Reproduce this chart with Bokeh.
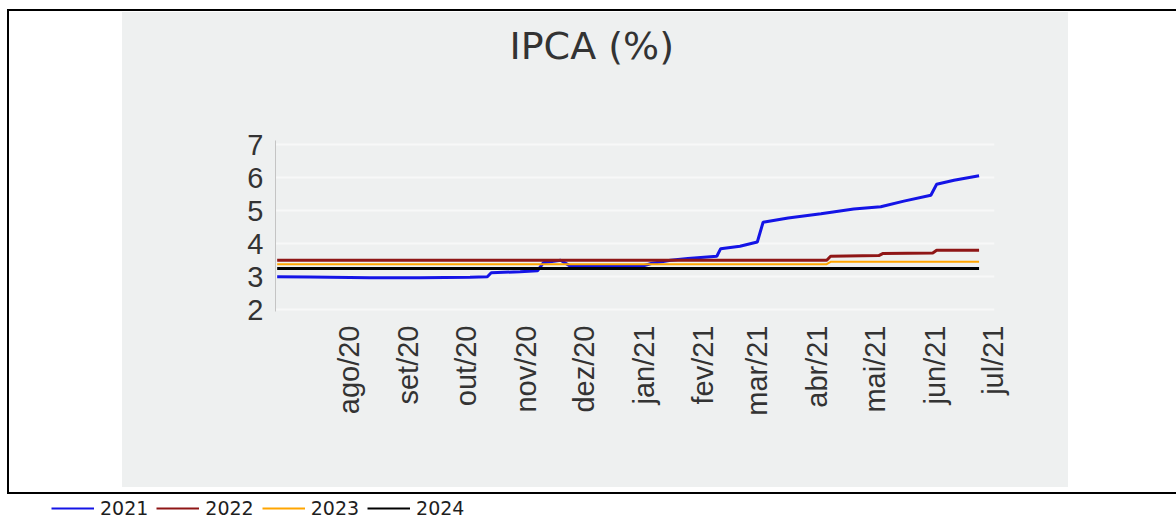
import pandas as pd
from math import pi
from bokeh.plotting import figure
from bokeh.models import Range1d, FixedTicker, Legend, LegendItem, ColumnDataSource, Title
from bokeh.embed import file_html
from bokeh.resources import INLINE

title_text = "IPCA (%)"
series_names = ["2021", "2022", "2023", "2024"]
series_colors = ["#1414e6", "#8f1616", "#ffa500", "#000000"]

month_starts = ["2020-08-01", "2020-09-01", "2020-10-01", "2020-11-01", "2020-12-01", "2021-01-01",
                "2021-02-01", "2021-03-01", "2021-04-01", "2021-05-01", "2021-06-01", "2021-07-01"]
month_labels = ["ago/20", "set/20", "out/20", "nov/20", "dez/20", "jan/21",
                "fev/21", "mar/21", "abr/21", "mai/21", "jun/21", "jul/21"]
y_ticks = [2, 3, 4, 5, 6, 7]

dates_2021 = ["2020-06-25", "2020-07-12", "2020-08-12", "2020-09-07", "2020-10-03", "2020-10-12",
              "2020-10-14", "2020-10-29", "2020-11-07", "2020-11-10", "2020-11-19", "2020-11-24",
              "2020-12-20", "2021-01-01", "2021-01-05", "2021-01-15", "2021-01-24", "2021-02-08",
              "2021-02-10", "2021-02-20", "2021-03-01", "2021-03-04", "2021-03-17", "2021-04-03",
              "2021-04-20", "2021-05-04", "2021-05-16", "2021-05-30", "2021-06-02", "2021-06-11",
              "2021-06-24"]
ipca_2021 = [3.00, 2.99, 2.97, 2.97, 2.98, 3.00,
             3.12, 3.15, 3.18, 3.42, 3.50, 3.32,
             3.32, 3.33, 3.40, 3.50, 3.55, 3.62,
             3.85, 3.92, 4.05, 4.65, 4.78, 4.91,
             5.05, 5.12, 5.29, 5.47, 5.80, 5.92,
             6.06]

dates_2022 = ["2020-06-25", "2020-09-01", "2020-12-01", "2021-03-01", "2021-04-06", "2021-04-08",
              "2021-05-03", "2021-05-05", "2021-05-31", "2021-06-02", "2021-06-24"]
ipca_2022 = [3.50, 3.50, 3.50, 3.50, 3.50, 3.62, 3.64, 3.70, 3.72, 3.80, 3.80]

dates_2023 = ["2020-06-25", "2020-10-01", "2021-01-01", "2021-04-06", "2021-04-08", "2021-06-24"]
ipca_2023 = [3.38, 3.38, 3.38, 3.38, 3.45, 3.45]

dates_2024 = ["2020-06-25", "2020-10-01", "2021-01-01", "2021-04-01", "2021-06-24"]
ipca_2024 = [3.25, 3.25, 3.25, 3.25, 3.25]

all_dates = [dates_2021, dates_2022, dates_2023, dates_2024]
all_values = [ipca_2021, ipca_2022, ipca_2023, ipca_2024]
widths = [3, 3, 2, 3]

page_bg = ("linear-gradient(#000,#000) 7px 9px / 2px 485px no-repeat, "
           "linear-gradient(#000,#000) 7px 9px / 1169px 2px no-repeat, "
           "linear-gradient(#000,#000) 7px 492px / 1169px 2px no-repeat, "
           "linear-gradient(#eef0f0,#eef0f0) 122px 12px / 946px 475px no-repeat, #ffffff")

p = figure(width=1176, height=496, x_axis_type="datetime",
           x_range=Range1d(pd.Timestamp("2020-06-24 03:20"), pd.Timestamp("2021-07-02")),
           y_range=Range1d(1.945, 7.127),
           output_backend="svg", toolbar_location=None,
           min_border_left=275, min_border_right=182, min_border_top=140, min_border_bottom=185,
           border_fill_color=None, background_fill_color=None, outline_line_color=None,
           styles={"background": page_bg})

# spacer between the frame and the title, then the title itself
spacer = Title(text=" ", text_font_size="10px", standoff=55)
main_title = Title(text=title_text, align="left", offset=234, standoff=10,
                   text_font="DejaVu Sans", text_font_size="38px", text_font_style="normal",
                   text_color="#333333")
p.add_layout(spacer, "above")
p.add_layout(main_title, "above")

p.yaxis.ticker = FixedTicker(ticks=y_ticks)
p.yaxis.major_label_text_font = "Liberation Sans"
p.yaxis.major_label_text_font_size = "29px"
p.yaxis.major_label_text_color = "#333333"
p.yaxis.major_tick_line_color = None
p.yaxis.major_tick_out = 0
p.yaxis.minor_tick_line_color = None
p.yaxis.axis_line_color = "#c4c4c4"
p.yaxis.major_label_standoff = 12

tick_ms = [int(pd.Timestamp(d).value // 10**6) for d in month_starts]
p.xaxis.ticker = FixedTicker(ticks=tick_ms)
overrides = {}
for ms, lab in zip(tick_ms, month_labels):
    overrides[float(ms)] = lab
p.xaxis.major_label_overrides = overrides
p.xaxis.major_label_orientation = pi / 2
p.xaxis.major_label_text_font = "Liberation Sans"
p.xaxis.major_label_text_font_size = "29px"
p.xaxis.major_label_text_color = "#333333"
p.xaxis.major_label_standoff = 14
p.xaxis.major_tick_line_color = None
p.xaxis.major_tick_out = 0
p.xaxis.minor_tick_line_color = None
p.xaxis.axis_line_color = None

p.xgrid.grid_line_color = None
p.ygrid.grid_line_color = "#f7f8f8"
p.ygrid.grid_line_width = 2

sources = []
for d, v, c, w in zip(all_dates, all_values, series_colors, widths):
    src = ColumnDataSource(dict(x=pd.to_datetime(d).to_numpy(), y=v))
    sources.append(src)
    p.line("x", "y", source=src, line_color=c, line_width=w)

# legend strip under the boxed chart (separate root so its frame spans the full width)
q = figure(width=1176, height=23, output_backend="svg", toolbar_location=None,
           x_range=Range1d(0, 1), y_range=Range1d(0, 1),
           x_axis_location=None, y_axis_location=None,
           min_border=0, min_border_left=0, min_border_right=0, min_border_top=0, min_border_bottom=0,
           border_fill_color=None, background_fill_color=None, outline_line_color=None)
q.grid.visible = False
key_renderers = []
for src, c in zip(sources, series_colors):
    key_renderers.append(q.line("x", "y", source=src, line_color=c, line_width=2))

legend = Legend(items=[LegendItem(label=n, renderers=[r]) for n, r in zip(series_names, key_renderers)],
                orientation="horizontal", location=(51, 0), padding=0, margin=0, spacing=8,
                glyph_width=43, glyph_height=20, label_standoff=6, label_height=20,
                label_text_font="DejaVu Sans", label_text_font_size="19px", label_text_color="#1e1e1e",
                border_line_color=None, background_fill_alpha=0)
q.add_layout(legend)

open("out.html", "w").write(file_html([p, q], INLINE))
